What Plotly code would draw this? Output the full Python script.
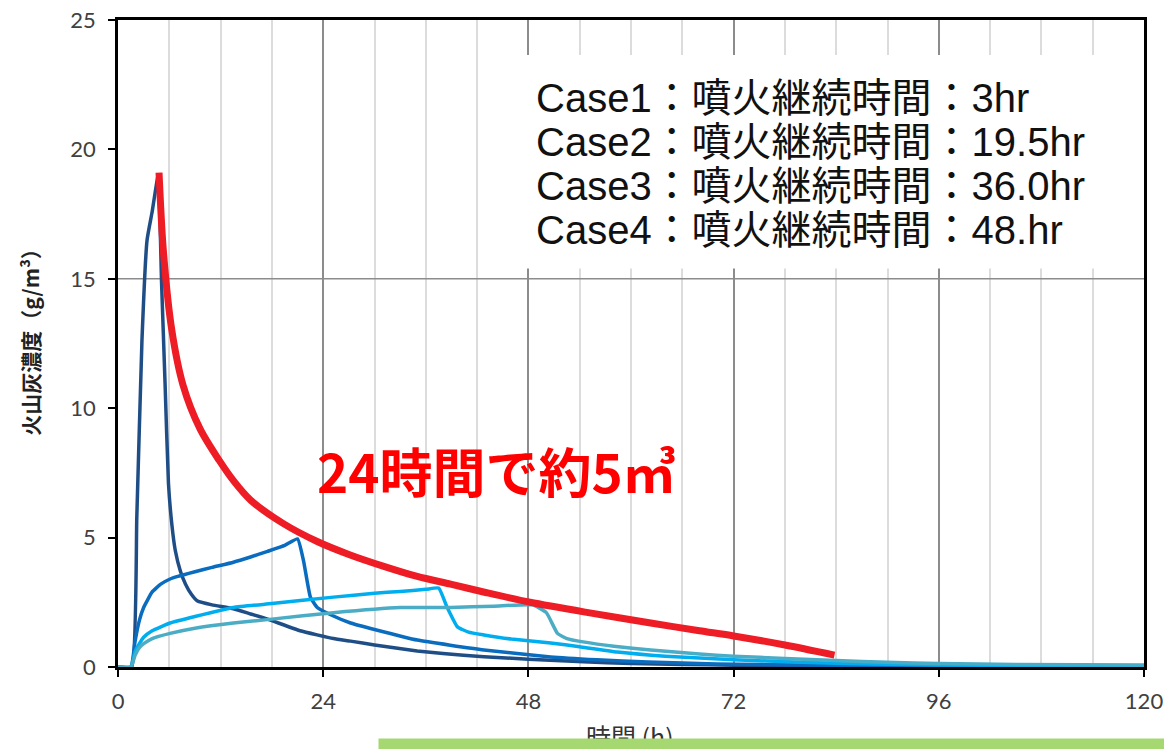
import plotly.graph_objects as go

# ---- data ----
case1_x = [0, 1.6, 2.2, 2.8, 3.4, 4.0, 4.7, 5.1, 5.5, 5.9, 6.3, 6.7, 7.3, 7.9, 8.6, 9.3, 11.0, 13.5, 15.5, 17.5, 21.3, 25.2, 27.2, 30.0, 35.0, 38.0, 42.8, 48.0, 54.4, 60, 66, 72, 80, 90, 100, 110, 120]
case1_y = [0, 0, 5.8, 12.6, 16.5, 17.6, 19.0, 14.8, 11.0, 7.1, 5.5, 4.5, 3.7, 3.2, 2.8, 2.55, 2.4, 2.25, 2.05, 1.85, 1.4, 1.1, 1.0, 0.85, 0.62, 0.52, 0.4, 0.3, 0.2, 0.14, 0.1, 0.07, 0.05, 0.04, 0.03, 0.03, 0.03]

case2_x = [0, 1.5, 2.0, 2.5, 3.0, 4.0, 5.0, 6.1, 7.0, 9, 11, 13.5, 15.5, 17.5, 19.5, 21.0, 21.7, 22.5, 23.3, 25, 27.2, 30, 35, 42.8, 50.6, 56, 62, 70, 80, 90, 100, 120]
case2_y = [0, 0, 1.0, 1.8, 2.3, 2.9, 3.2, 3.4, 3.5, 3.68, 3.85, 4.05, 4.25, 4.47, 4.7, 4.95, 4.1, 2.7, 2.3, 2.0, 1.7, 1.45, 1.04, 0.66, 0.39, 0.28, 0.19, 0.12, 0.08, 0.05, 0.04, 0.03]

case3_x = [0, 1.5, 2.0, 2.5, 3.0, 4.0, 6.1, 9, 13.5, 18, 25.2, 30, 33, 36, 37.5, 38.5, 39.7, 41, 42.8, 46, 50.6, 54, 58.4, 64, 72, 80, 88, 96, 110, 120]
case3_y = [0, 0, 0.6, 0.9, 1.15, 1.4, 1.7, 1.95, 2.3, 2.45, 2.7, 2.85, 2.92, 3.0, 3.05, 2.3, 1.55, 1.35, 1.24, 1.08, 0.93, 0.78, 0.58, 0.42, 0.28, 0.18, 0.12, 0.08, 0.05, 0.04]

case4_x = [0, 1.5, 2.0, 2.5, 3.0, 4.0, 6.1, 9, 13.5, 18, 25.2, 33, 38.9, 44, 48.5, 50.1, 51.4, 52.5, 54.4, 58, 62.3, 68, 72, 78, 84, 90, 96, 105, 120]
case4_y = [0, 0, 0.45, 0.75, 0.9, 1.1, 1.3, 1.5, 1.7, 1.85, 2.1, 2.3, 2.3, 2.35, 2.4, 2.1, 1.3, 1.1, 0.97, 0.8, 0.66, 0.5, 0.42, 0.33, 0.25, 0.18, 0.14, 0.1, 0.08]

red_x = [4.8, 5.3, 6.3, 7.6, 9.6, 11.8, 13.5, 15.5, 19.3, 23.3, 27, 31, 35, 38.9, 43, 48.2, 55, 62.3, 68, 72, 78, 83.8]
red_y = [19.1, 16.1, 13.0, 10.9, 9.2, 8.0, 7.2, 6.45, 5.55, 4.85, 4.35, 3.9, 3.5, 3.2, 2.88, 2.5, 2.1, 1.7, 1.4, 1.2, 0.85, 0.46]

x_ticks = [0, 24, 48, 72, 96, 120]
y_ticks = [0, 5, 10, 15, 20, 25]

legend_lines = [
    "Case1：噴火継続時間：3hr",
    "Case2：噴火継続時間：19.5hr",
    "Case3：噴火継続時間：36.0hr",
    "Case4：噴火継続時間：48.hr",
]
legend_y = [22.0, 20.27, 18.57, 16.87]
red_label = "24時間で約5㎥"
x_title = "時間 (h)"
y_title = "火山灰濃度（g/m³）"

# ---- figure ----
fig = go.Figure()
series = [
    (case1_x, case1_y, "#1F4E87"),
    (case2_x, case2_y, "#0A6CBF"),
    (case3_x, case3_y, "#00AEEF"),
    (case4_x, case4_y, "#4BACC6"),
]
for xs, ys, col in series:
    fig.add_trace(go.Scatter(x=xs, y=ys, mode="lines",
                             line=dict(color=col, width=3.5, shape="spline",
                                       smoothing=0.4),
                             showlegend=False, hoverinfo="skip"))
fig.add_trace(go.Scatter(x=red_x, y=red_y, mode="lines",
                         line=dict(color="#EE1C25", width=7, shape="spline",
                                   smoothing=0.8),
                         showlegend=False, hoverinfo="skip"))

tick_font = dict(family="Lato, DejaVu Sans, sans-serif", size=22, color="#404040")

fig.update_xaxes(range=[0, 120], tickvals=x_ticks, ticks="outside", ticklen=7,
                 tickwidth=2, tickcolor="black", showline=True, linecolor="black",
                 linewidth=2.5, mirror=True, showgrid=True, gridcolor="#8C8C8C",
                 gridwidth=1.5, zeroline=False, tickfont=tick_font,
                 ticklabelstandoff=6, automargin=False,
                 minor=dict(dtick=6, showgrid=True, gridcolor="#DCDCDC", gridwidth=2))
fig.update_yaxes(range=[0, 25], tickvals=y_ticks, ticks="outside", ticklen=7,
                 tickwidth=2, tickcolor="black", showline=True, linecolor="black",
                 linewidth=2.5, mirror=True, showgrid=False, zeroline=False,
                 tickfont=tick_font, ticklabelstandoff=8, automargin=False)

# white box behind the legend text, and the single horizontal gridline at 15
fig.add_shape(type="rect", x0=47.2, x1=119.7, y0=15.4, y1=23.65,
              fillcolor="white", line=dict(width=0), layer="between")
fig.add_shape(type="line", x0=0, x1=120, y0=15, y1=15,
              line=dict(color="#8C8C8C", width=1.5), layer="between")

cjk = "Liberation Sans, Noto Sans CJK JP, sans-serif"
for txt, yy in zip(legend_lines, legend_y):
    fig.add_annotation(x=48.6, y=yy, xref="x", yref="y", xanchor="left",
                       yanchor="middle", align="left", showarrow=False,
                       text=txt, font=dict(family=cjk, size=40, color="#111111"))
fig.add_annotation(x=23.0, y=7.6, xref="x", yref="y", xanchor="left",
                   yanchor="middle", showarrow=False, text=red_label,
                   font=dict(family="Noto Sans CJK JP, sans-serif", size=53,
                             color="#FF0000", weight="bold"))
fig.add_annotation(x=-0.086, y=0.51, xref="paper", yref="paper",
                   xanchor="center", yanchor="middle", textangle=-90,
                   showarrow=False, text=y_title,
                   font=dict(family="Noto Sans CJK JP, sans-serif", size=21,
                             color="#222222", weight="bold"))
fig.add_annotation(x=0.499, y=-0.106, xref="paper", yref="paper",
                   xanchor="center", yanchor="middle", showarrow=False,
                   text=x_title,
                   font=dict(family="Noto Sans CJK JP, sans-serif", size=25,
                             color="#333333"))
# green strip at bottom (covers lower part of the x title)
fig.add_annotation(x=0.2535, y=-0.1205, xref="paper", yref="paper",
                   xanchor="left", yanchor="middle", showarrow=False,
                   text=" ", width=786, height=12, bgcolor="#A6D872",
                   borderpad=0, font=dict(size=6))

fig.update_layout(width=1164, height=749, plot_bgcolor="white",
                  paper_bgcolor="white",
                  margin=dict(l=118, r=20, t=20, b=82))

fig.write_html("out.html", config={"displayModeBar": False},
               post_script="document.body.style.margin='0';document.body.style.overflow='hidden';")
